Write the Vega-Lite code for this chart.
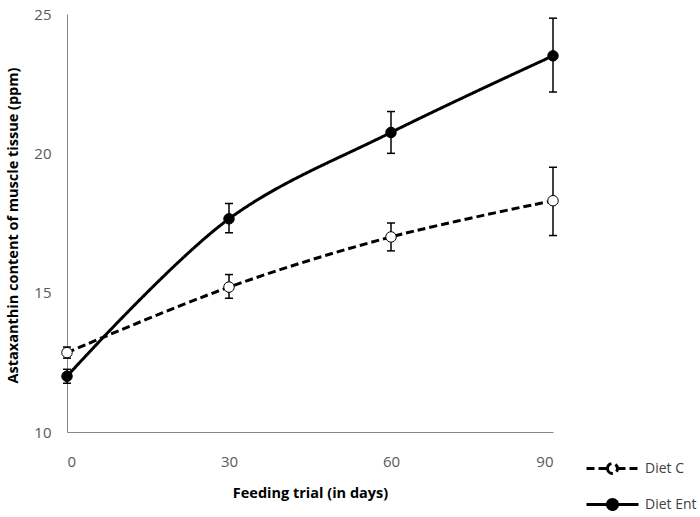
{
  "$schema": "https://vega.github.io/schema/vega-lite/v6.json",
  "width": 486,
  "height": 418,
  "autosize": {"type": "none"},
  "padding": {"left": 67, "top": 14, "right": 147, "bottom": 85},
  "background": "white",
  "config": {
    "view": {"stroke": null},
    "font": "Open Sans",
    "axis": {"grid": false, "ticks": false, "domainColor": "#868686", "labelColor": "#595959", "labelFontSize": 15, "titleFontSize": 14.5, "titleFontWeight": "bold", "titleColor": "#000000"}
  },
  "data": {
    "values": [
      {"day": 0, "series": "Diet C", "mean": 12.85, "lo": 12.65, "hi": 13.05},
      {"day": 30, "series": "Diet C", "mean": 15.2, "lo": 14.8, "hi": 15.65},
      {"day": 60, "series": "Diet C", "mean": 17.0, "lo": 16.5, "hi": 17.5},
      {"day": 90, "series": "Diet C", "mean": 18.3, "lo": 17.05, "hi": 19.5},
      {"day": 0, "series": "Diet Ent", "mean": 12.0, "lo": 11.75, "hi": 12.25},
      {"day": 30, "series": "Diet Ent", "mean": 17.65, "lo": 17.15, "hi": 18.2},
      {"day": 60, "series": "Diet Ent", "mean": 20.75, "lo": 20.0, "hi": 21.5},
      {"day": 90, "series": "Diet Ent", "mean": 23.5, "lo": 22.2, "hi": 24.85}
    ]
  },
  "encoding": {
    "x": {"field": "day", "type": "quantitative", "scale": {"domain": [0, 90], "nice": false},
      "axis": {"values": [0, 30, 60, 90], "title": "Feeding trial (in days)", "labelPadding": 22, "titlePadding": 17}}
  },
  "layer": [
    {
      "mark": {"type": "rule", "color": "black", "strokeWidth": 1.5},
      "encoding": {
        "y": {"field": "lo", "type": "quantitative", "scale": {"domain": [10, 25], "nice": false, "zero": false}, "title": "Astaxanthin content of muscle tissue (ppm)"},
        "y2": {"field": "hi"}
      }
    },
    {
      "mark": {"type": "tick", "orient": "horizontal", "size": 8, "thickness": 1.5, "color": "black", "opacity": 1},
      "encoding": {
        "y": {"field": "lo", "type": "quantitative", "title": "Astaxanthin content of muscle tissue (ppm)"}
      }
    },
    {
      "mark": {"type": "tick", "orient": "horizontal", "size": 8, "thickness": 1.5, "color": "black", "opacity": 1},
      "encoding": {
        "y": {"field": "hi", "type": "quantitative", "title": "Astaxanthin content of muscle tissue (ppm)"}
      }
    },
    {
      "mark": {"type": "line", "interpolate": "catmull-rom", "color": "black", "strokeWidth": 3},
      "encoding": {
        "y": {"field": "mean", "type": "quantitative",
          "axis": {"values": [10, 15, 20, 25], "title": "Astaxanthin content of muscle tissue (ppm)", "labelPadding": 16, "titlePadding": 13, "titleY": 211}},
        "strokeDash": {"field": "series", "type": "nominal", "scale": {"domain": ["Diet C", "Diet Ent"], "range": [[8, 4], [1, 0]]},
          "legend": {"title": null, "orient": "none", "legendX": 534, "legendY": 443, "padding": 0, "symbolType": "M-2.6,0H-0.5M0.5,0H2.6M-0.5,0A0.5,0.5 0 1,0 0.5,0A0.5,0.5 0 1,0 -0.5,0Z", "symbolSize": 400, "symbolStrokeWidth": 3, "symbolStrokeColor": "black", "labelFontSize": 14, "labelColor": "#404040", "rowPadding": 13, "labelOffset": 21,
            "encode": {"symbols": {"update": {"fill": [{"test": "datum.value === 'Diet Ent'", "value": "black"}, {"value": "white"}], "stroke": {"value": "black"}}}}}}
      }
    },
    {
      "mark": {"type": "point", "size": 110, "stroke": "black", "strokeWidth": 1, "opacity": 1},
      "encoding": {
        "y": {"field": "mean", "type": "quantitative", "title": "Astaxanthin content of muscle tissue (ppm)"},
        "fill": {"field": "series", "type": "nominal", "scale": {"domain": ["Diet C", "Diet Ent"], "range": ["white", "black"]}, "legend": null}
      }
    }
  ]
}
